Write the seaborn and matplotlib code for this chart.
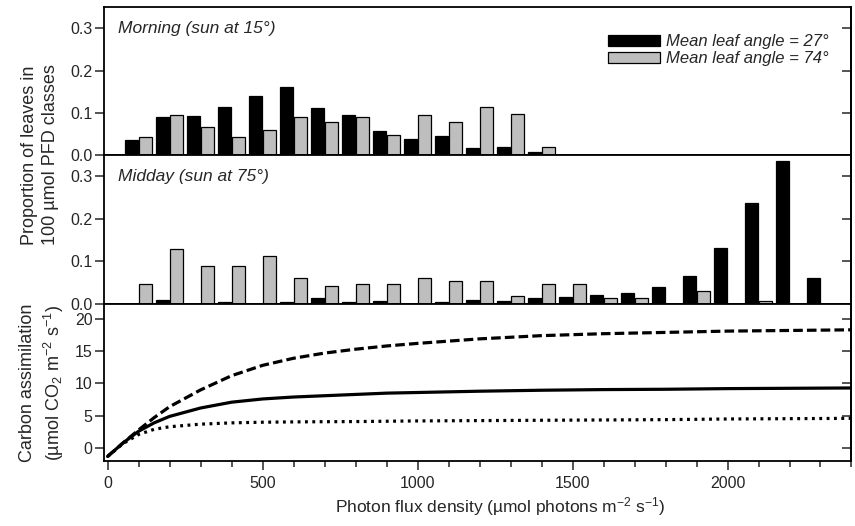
import numpy as np
import pandas as pd
import matplotlib
matplotlib.use("Agg")
import matplotlib.pyplot as plt
import seaborn as sns
from matplotlib.patches import Patch
from matplotlib.ticker import MultipleLocator

# -----------------------------
# Data
# -----------------------------
morning_classes = [100, 200, 300, 400, 500, 600, 700, 800, 900, 1000, 1100, 1200, 1300, 1400]
morning_27 = [0.035, 0.089, 0.092, 0.114, 0.139, 0.161, 0.111, 0.095, 0.057, 0.038,
              0.045, 0.017, 0.020, 0.007]
morning_74 = [0.043, 0.095, 0.067, 0.042, 0.059, 0.091, 0.078, 0.090, 0.047, 0.095,
              0.078, 0.114, 0.096, 0.019]

midday_classes = [100, 200, 300, 400, 500, 600, 700, 800, 900, 1000, 1100, 1200,
                  1300, 1400, 1500, 1600, 1700, 1800, 1900, 2000, 2100, 2200, 2300]
midday_27 = [0.0, 0.010, 0.0, 0.004, 0.0, 0.004, 0.013, 0.004, 0.007, 0.0, 0.004, 0.010,
             0.007, 0.013, 0.017, 0.020, 0.026, 0.041, 0.066, 0.131, 0.237, 0.335, 0.062]
midday_74 = [0.048, 0.130, 0.089, 0.089, 0.113, 0.061, 0.043, 0.048, 0.048, 0.061, 0.054,
             0.054, 0.019, 0.048, 0.048, 0.013, 0.013, 0.0, 0.030, 0.0, 0.007, 0.0, 0.0]

pfd_curve = [0, 50, 100, 150, 200, 300, 400, 500, 600, 700, 800, 900, 1000,
             1200, 1400, 1600, 1800, 2000, 2200, 2400]
assim_dashed = [-1.3, 0.8, 2.8, 4.7, 6.4, 9.0, 11.2, 12.8, 13.9, 14.7, 15.3, 15.8, 16.2,
                16.9, 17.4, 17.7, 17.9, 18.1, 18.2, 18.3]
assim_solid = [-1.3, 0.8, 2.6, 3.9, 4.9, 6.2, 7.1, 7.6, 7.9, 8.1, 8.3, 8.5, 8.6,
               8.8, 8.95, 9.05, 9.1, 9.2, 9.25, 9.3]
assim_dotted = [-1.3, 0.7, 2.1, 2.9, 3.3, 3.7, 3.9, 4.0, 4.05, 4.08, 4.1, 4.15, 4.2,
                4.25, 4.3, 4.35, 4.4, 4.5, 4.55, 4.6]

angle_labels = ["Mean leaf angle = 27\u00b0", "Mean leaf angle = 74\u00b0"]

# -----------------------------
# Style
# -----------------------------
sns.set_theme(style="ticks")
plt.rcParams["font.family"] = ["Liberation Sans", "DejaVu Sans"]
plt.rcParams["mathtext.fontset"] = "custom"
plt.rcParams["mathtext.rm"] = "Liberation Sans"
plt.rcParams["mathtext.it"] = "Liberation Sans:italic"
plt.rcParams["axes.linewidth"] = 1.3
plt.rcParams["axes.edgecolor"] = "black"

palette = {"27": "black", "74": "#bebebe"}


def long_table(classes, v27, v74):
    return pd.DataFrame({
        "pfd": classes + classes,
        "prop": v27 + v74,
        "angle": ["27"] * len(classes) + ["74"] * len(classes),
    })


morning = long_table(morning_classes, morning_27, morning_74)
midday = long_table(midday_classes, midday_27, midday_74)

fig = plt.figure(figsize=(8.55, 5.26), dpi=100)
left, width = 0.1222, 0.8737
ax1 = fig.add_axes([left, 0.7053, width, 0.2808])
ax2 = fig.add_axes([left, 0.4221, width, 0.2833])
ax3 = fig.add_axes([left, 0.1236, width, 0.2985])

# -----------------------------
# Bar panels
# -----------------------------
for ax, df, title in [(ax1, morning, "Morning (sun at 15\u00b0)"),
                      (ax2, midday, "Midday (sun at 75\u00b0)")]:
    sns.barplot(data=df, x="pfd", y="prop", hue="angle", hue_order=["27", "74"],
                palette=palette, native_scale=True, width=0.9, gap=0.12,
                errorbar=None, edgecolor="black", linewidth=0.9,
                saturation=1, legend=False, ax=ax)
    ax.set_ylim(0, 0.35)
    ax.set_yticks([0.0, 0.1, 0.2, 0.3])
    ax.set_yticklabels(["0.0", "0.1", "0.2", "0.3"])
    ax.text(0.018, 0.857, title, transform=ax.transAxes, ha="left", va="center",
            fontsize=12.5, style="italic")

ax1.legend(handles=[Patch(facecolor="black", edgecolor="black", linewidth=0.9),
                    Patch(facecolor="#bebebe", edgecolor="black", linewidth=0.9)],
           labels=angle_labels, loc="upper right", bbox_to_anchor=(0.985, 0.895),
           frameon=False, prop={"style": "italic", "size": 12},
           handlelength=3.1, handleheight=0.65, handletextpad=0.35,
           labelspacing=0.12, borderpad=0.2)

# -----------------------------
# Assimilation panel
# -----------------------------
sns.lineplot(x=pfd_curve, y=assim_dashed, ax=ax3, color="black", linewidth=2.3,
             linestyle=(0, (3.0, 1.3)))
sns.lineplot(x=pfd_curve, y=assim_solid, ax=ax3, color="black", linewidth=2.3)
sns.lineplot(x=pfd_curve, y=assim_dotted, ax=ax3, color="black", linewidth=2.3,
             linestyle=(0, (0.9, 1.4)))
ax3.set_ylim(-2, 22.3)
ax3.set_yticks([0, 5, 10, 15, 20])

# -----------------------------
# Shared axis styling
# -----------------------------
for ax in (ax1, ax2, ax3):
    ax.set_xlim(-10, 2400)
    ax.set_xlabel("")
    ax.set_ylabel("")
    for s in ax.spines.values():
        s.set_visible(True)
        s.set_linewidth(1.3)
    ax.tick_params(axis="y", which="major", direction="out", length=6.5, width=1.1,
                   labelsize=11.5, pad=2, left=True, right=False)
    sec = ax.secondary_yaxis("right")
    sec.set_yticks(ax.get_yticks())
    sec.tick_params(direction="in", length=6.5, width=1.1, labelright=False)
    sec.spines["right"].set_linewidth(1.3)

for ax in (ax1, ax2):
    ax.set_xticks([])
    ax.tick_params(axis="x", bottom=False, labelbottom=False)

ax3.xaxis.set_major_locator(MultipleLocator(500))
ax3.xaxis.set_minor_locator(MultipleLocator(100))
ax3.tick_params(axis="x", which="major", direction="out", length=6.5, width=1.1,
                labelsize=11.5, pad=4)
ax3.tick_params(axis="x", which="minor", direction="out", length=4, width=1.1)

ax3.set_xlabel("Photon flux density (\u00b5mol photons m$^{-2}$ s$^{-1}$)",
               fontsize=12.5)
ax3.xaxis.set_label_coords(0.53, -0.22)
ax3.xaxis.label.set_va("top")

fig.text(0.047, 1 - 155 / 526, "Proportion of leaves in\n100 \u00b5mol PFD classes",
         rotation=90, ha="center", va="center", fontsize=13, linespacing=1.3)
fig.text(0.050, 1 - 383 / 526, "Carbon assimilation\n(\u00b5mol CO$_2$ m$^{-2}$ s$^{-1}$)",
         rotation=90, ha="center", va="center", fontsize=13, linespacing=1.3)

fig.savefig("out.png", dpi=100)
